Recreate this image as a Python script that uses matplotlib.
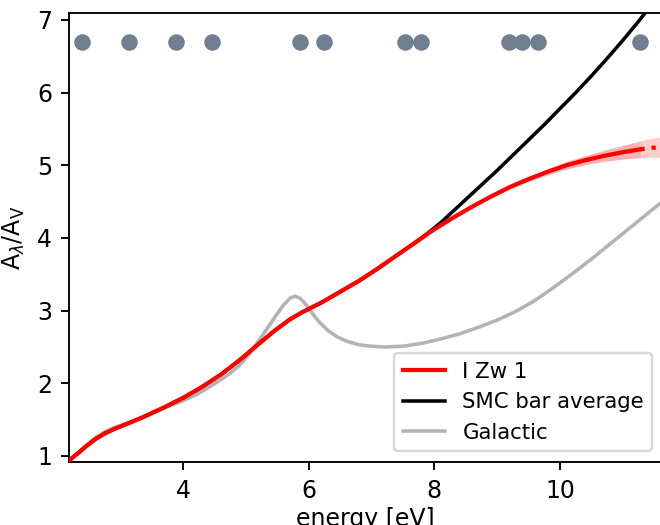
import numpy as np
import matplotlib
matplotlib.use('Agg')
import matplotlib.pyplot as plt

# energies of the marked features (eV)
line_energy = [2.39, 3.13, 3.88, 4.46, 5.86, 6.25, 7.53, 7.79, 9.18, 9.39, 9.65, 11.28]
line_level = 6.7

# fitted I Zw 1 curve (solid part) and its uncertainty
izw_e = [2.17, 2.3, 2.45, 2.6, 2.75, 2.9, 3.1, 3.35, 3.7, 4.0, 4.3, 4.6, 4.9, 5.2, 5.45,
         5.7, 5.9, 6.2, 6.5, 6.8, 7.1, 7.4, 7.7, 8.0, 8.3, 8.6, 8.9, 9.2, 9.5, 9.8,
         10.1, 10.4, 10.7, 11.0, 11.28]
izw_a = [0.93, 1.02, 1.13, 1.23, 1.31, 1.37, 1.44, 1.53, 1.67, 1.80, 1.95, 2.12, 2.32, 2.54, 2.72,
         2.88, 2.98, 3.11, 3.26, 3.41, 3.58, 3.76, 3.94, 4.12, 4.28, 4.43, 4.57, 4.70, 4.81, 4.91,
         5.00, 5.07, 5.13, 5.18, 5.22]
izw_err = [0.0] * 22 + [0.002, 0.005, 0.008, 0.012, 0.018, 0.025, 0.033, 0.042,
                        0.052, 0.063, 0.077, 0.095, 0.115]
# extrapolated part beyond the last feature
ext_e = [11.28, 11.45, 11.6, 11.7]
ext_a = [5.22, 5.24, 5.25, 5.26]
ext_err = [0.12, 0.13, 0.14, 0.14]

# SMC bar average
smc_e = [2.17, 2.3, 2.45, 2.6, 2.75, 2.9, 3.1, 3.35, 3.7, 4.0, 4.3, 4.6, 4.9, 5.2, 5.45,
         5.7, 5.9, 6.2, 6.5, 6.8, 7.1, 7.4, 7.7, 7.9, 8.1, 8.3, 8.5, 8.75, 9.0, 9.25,
         9.5, 9.75, 10.0, 10.25, 10.5, 10.75, 11.0, 11.25, 11.45]
smc_a = [0.93, 1.02, 1.13, 1.23, 1.31, 1.37, 1.44, 1.53, 1.67, 1.80, 1.95, 2.12, 2.32, 2.54, 2.72,
         2.88, 2.98, 3.11, 3.26, 3.41, 3.58, 3.76, 3.94, 4.07, 4.21, 4.37, 4.53, 4.73, 4.93, 5.14,
         5.35, 5.56, 5.78, 6.00, 6.23, 6.47, 6.72, 6.98, 7.20]

# Galactic curve
gal_e = [2.17, 2.3, 2.45, 2.6, 2.75, 2.9, 3.1, 3.4, 3.7, 4.0, 4.2, 4.4, 4.6, 4.75, 4.9,
         5.05, 5.2, 5.35, 5.5, 5.6, 5.7, 5.78, 5.86, 5.95, 6.05, 6.15, 6.3, 6.45, 6.6, 6.8,
         7.0, 7.2, 7.5, 7.8, 8.1, 8.4, 8.7, 9.0, 9.3, 9.6, 9.9, 10.2, 10.5, 10.8, 11.1,
         11.4, 11.7]
gal_a = [0.92, 1.02, 1.14, 1.25, 1.33, 1.39, 1.45, 1.55, 1.66, 1.76, 1.84, 1.94, 2.05, 2.14, 2.25,
         2.40, 2.58, 2.77, 2.96, 3.08, 3.17, 3.20, 3.17, 3.09, 2.97, 2.86, 2.73, 2.64, 2.58, 2.53,
         2.51, 2.50, 2.51, 2.55, 2.61, 2.68, 2.77, 2.87, 2.99, 3.14, 3.32, 3.51, 3.71, 3.92, 4.13,
         4.34, 4.55]

fig = plt.figure(figsize=(660 / 170, 525 / 170), dpi=170)
ax = fig.add_axes([68.5 / 660, 63 / 525, (663 - 68.5) / 660, 449 / 525])

izw_a_arr = np.array(izw_a)
izw_err_arr = np.array(izw_err)
ext_a_arr = np.array(ext_a)
ext_err_arr = np.array(ext_err)

ax.fill_between(izw_e, izw_a_arr - izw_err_arr, izw_a_arr + izw_err_arr,
                color='red', alpha=0.3, lw=0, zorder=3)
ax.fill_between(ext_e, ext_a_arr - ext_err_arr, ext_a_arr + ext_err_arr,
                color='red', alpha=0.2, lw=0, zorder=3)
ax.plot(izw_e, izw_a, color='red', lw=1.8, label='I Zw 1', zorder=5)
ax.plot(ext_e, ext_a, color='red', lw=1.8, ls=':', zorder=5)
ax.plot(smc_e, smc_a, color='black', lw=1.5, label='SMC bar average', zorder=4)
ax.plot(gal_e, gal_a, color='0.7', lw=1.5, label='Galactic', zorder=2)

ax.plot(line_energy, [line_level] * len(line_energy), 'o', color='slategray',
        ms=6, ls='none', zorder=6)

ax.set_xlim(2.174, 11.64)
ax.set_ylim(0.917, 7.096)
ax.set_xticks([4, 6, 8, 10])
ax.set_yticks([1, 2, 3, 4, 5, 6, 7])
ax.set_xlabel('energy [eV]', labelpad=2)
ax.set_ylabel(r'A$_\lambda$/A$_{\rm V}$')
ax.legend(loc='lower right', fontsize=9)

fig.savefig('out.png', dpi=170)
